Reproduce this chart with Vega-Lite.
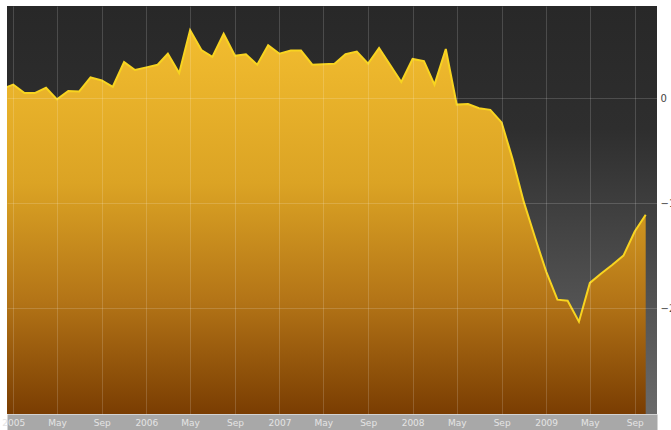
{
  "$schema": "https://vega.github.io/schema/vega-lite/v6.json",
  "width": 650,
  "height": 408,
  "autosize": {"type": "none"},
  "padding": {"left": 7, "top": 6, "right": 14, "bottom": 16},
  "background": "#ffffff",
  "config": {
    "view": {
      "stroke": null,
      "fill": {
        "gradient": "linear", "x1": 0, "y1": 0, "x2": 0, "y2": 1,
        "stops": [
          {"offset": 0, "color": "#282828"},
          {"offset": 0.3, "color": "#2e2e2e"},
          {"offset": 1, "color": "#6a6a6a"}
        ]
      }
    },
    "font": "DejaVu Sans"
  },
  "data": {
    "values": [
      {"month": "2004-12-01", "value": 0.9},
      {"month": "2005-01-01", "value": 1.3},
      {"month": "2005-02-01", "value": 0.5},
      {"month": "2005-03-01", "value": 0.5},
      {"month": "2005-04-01", "value": 1.0},
      {"month": "2005-05-01", "value": -0.1},
      {"month": "2005-06-01", "value": 0.7},
      {"month": "2005-07-01", "value": 0.65},
      {"month": "2005-08-01", "value": 2.0},
      {"month": "2005-09-01", "value": 1.7},
      {"month": "2005-10-01", "value": 1.1},
      {"month": "2005-11-01", "value": 3.45},
      {"month": "2005-12-01", "value": 2.7},
      {"month": "2006-01-01", "value": 2.95},
      {"month": "2006-02-01", "value": 3.2},
      {"month": "2006-03-01", "value": 4.25},
      {"month": "2006-04-01", "value": 2.4},
      {"month": "2006-05-01", "value": 6.5},
      {"month": "2006-06-01", "value": 4.6},
      {"month": "2006-07-01", "value": 3.95},
      {"month": "2006-08-01", "value": 6.15},
      {"month": "2006-09-01", "value": 4.05},
      {"month": "2006-10-01", "value": 4.2},
      {"month": "2006-11-01", "value": 3.2},
      {"month": "2006-12-01", "value": 5.05},
      {"month": "2007-01-01", "value": 4.25},
      {"month": "2007-02-01", "value": 4.55},
      {"month": "2007-03-01", "value": 4.55},
      {"month": "2007-04-01", "value": 3.2},
      {"month": "2007-05-01", "value": 3.25},
      {"month": "2007-06-01", "value": 3.3},
      {"month": "2007-07-01", "value": 4.2},
      {"month": "2007-08-01", "value": 4.45},
      {"month": "2007-09-01", "value": 3.3},
      {"month": "2007-10-01", "value": 4.8},
      {"month": "2007-11-01", "value": 3.15},
      {"month": "2007-12-01", "value": 1.55},
      {"month": "2008-01-01", "value": 3.75},
      {"month": "2008-02-01", "value": 3.55},
      {"month": "2008-03-01", "value": 1.3},
      {"month": "2008-04-01", "value": 4.7},
      {"month": "2008-05-01", "value": -0.6},
      {"month": "2008-06-01", "value": -0.55},
      {"month": "2008-07-01", "value": -0.95},
      {"month": "2008-08-01", "value": -1.1},
      {"month": "2008-09-01", "value": -2.3},
      {"month": "2008-10-01", "value": -5.8},
      {"month": "2008-11-01", "value": -9.9},
      {"month": "2008-12-01", "value": -13.2},
      {"month": "2009-01-01", "value": -16.5},
      {"month": "2009-02-01", "value": -19.2},
      {"month": "2009-03-01", "value": -19.3},
      {"month": "2009-04-01", "value": -21.3},
      {"month": "2009-05-01", "value": -17.6},
      {"month": "2009-06-01", "value": -16.7},
      {"month": "2009-07-01", "value": -15.9},
      {"month": "2009-08-01", "value": -15.0},
      {"month": "2009-09-01", "value": -12.7},
      {"month": "2009-10-01", "value": -11.1}
    ]
  },
  "encoding": {
    "y": {
      "field": "value",
      "type": "quantitative",
      "scale": {"domain": [-30.1, 8.8], "nice": false, "zero": false},
      "axis": {
        "title": null,
        "orient": "right",
        "values": [0, -10, -20],
        "grid": true,
        "gridColor": "#ffffff",
        "gridOpacity": 0.16,
        "domain": false,
        "ticks": false,
        "labelPadding": 3,
        "labelColor": "#444444",
        "labelFontSize": 10,
        "zindex": 1
      }
    }
  },
  "layer": [
    {
      "mark": {
        "type": "area",
        "clip": true,
        "color": {
          "gradient": "linear", "x1": 0, "y1": 0, "x2": 0, "y2": 1,
          "stops": [
            {"offset": 0, "color": "#f2bd2f"},
            {"offset": 0.4, "color": "#dba324"},
            {"offset": 0.7, "color": "#b47517"},
            {"offset": 1, "color": "#7a3d02"}
          ]
        }
      },
      "encoding": {
        "x": {
          "field": "month",
          "type": "temporal",
          "scale": {"domain": ["2004-12-15", "2009-11-01"], "nice": false},
          "axis": {
            "title": null,
            "orient": "bottom",
            "grid": false,
            "labels": false,
            "ticks": false,
            "domain": true,
            "domainColor": "#a8a8a8",
            "domainWidth": 16,
            "offset": 8,
            "zindex": 1
          }
        },
        "y2": {"datum": -30.1}
      }
    },
    {
      "mark": {"type": "line", "clip": true, "color": "#f8d420", "strokeWidth": 2},
      "encoding": {
        "x": {
          "field": "month",
          "type": "temporal",
          "axis": {
            "title": null,
            "orient": "bottom",
            "tickCount": {"interval": "month", "step": 4},
            "labelExpr": "month(datum.value) == 0 ? timeFormat(datum.value, '%Y') : timeFormat(datum.value, '%b')",
            "grid": true,
            "gridColor": "#ffffff",
            "gridOpacity": 0.16,
            "gridWidth": 1,
            "ticks": false,
            "tickSize": 0,
            "domain": false,
            "offset": 8,
            "labelBaseline": "middle",
            "labelPadding": 0,
            "labelColor": "#e4e4e4",
            "labelFontSize": 9,
            "labelFlush": false,
            "labelOverlap": false,
            "zindex": 2
          }
        }
      }
    }
  ],
  "resolve": {"axis": {"x": "independent"}}
}
